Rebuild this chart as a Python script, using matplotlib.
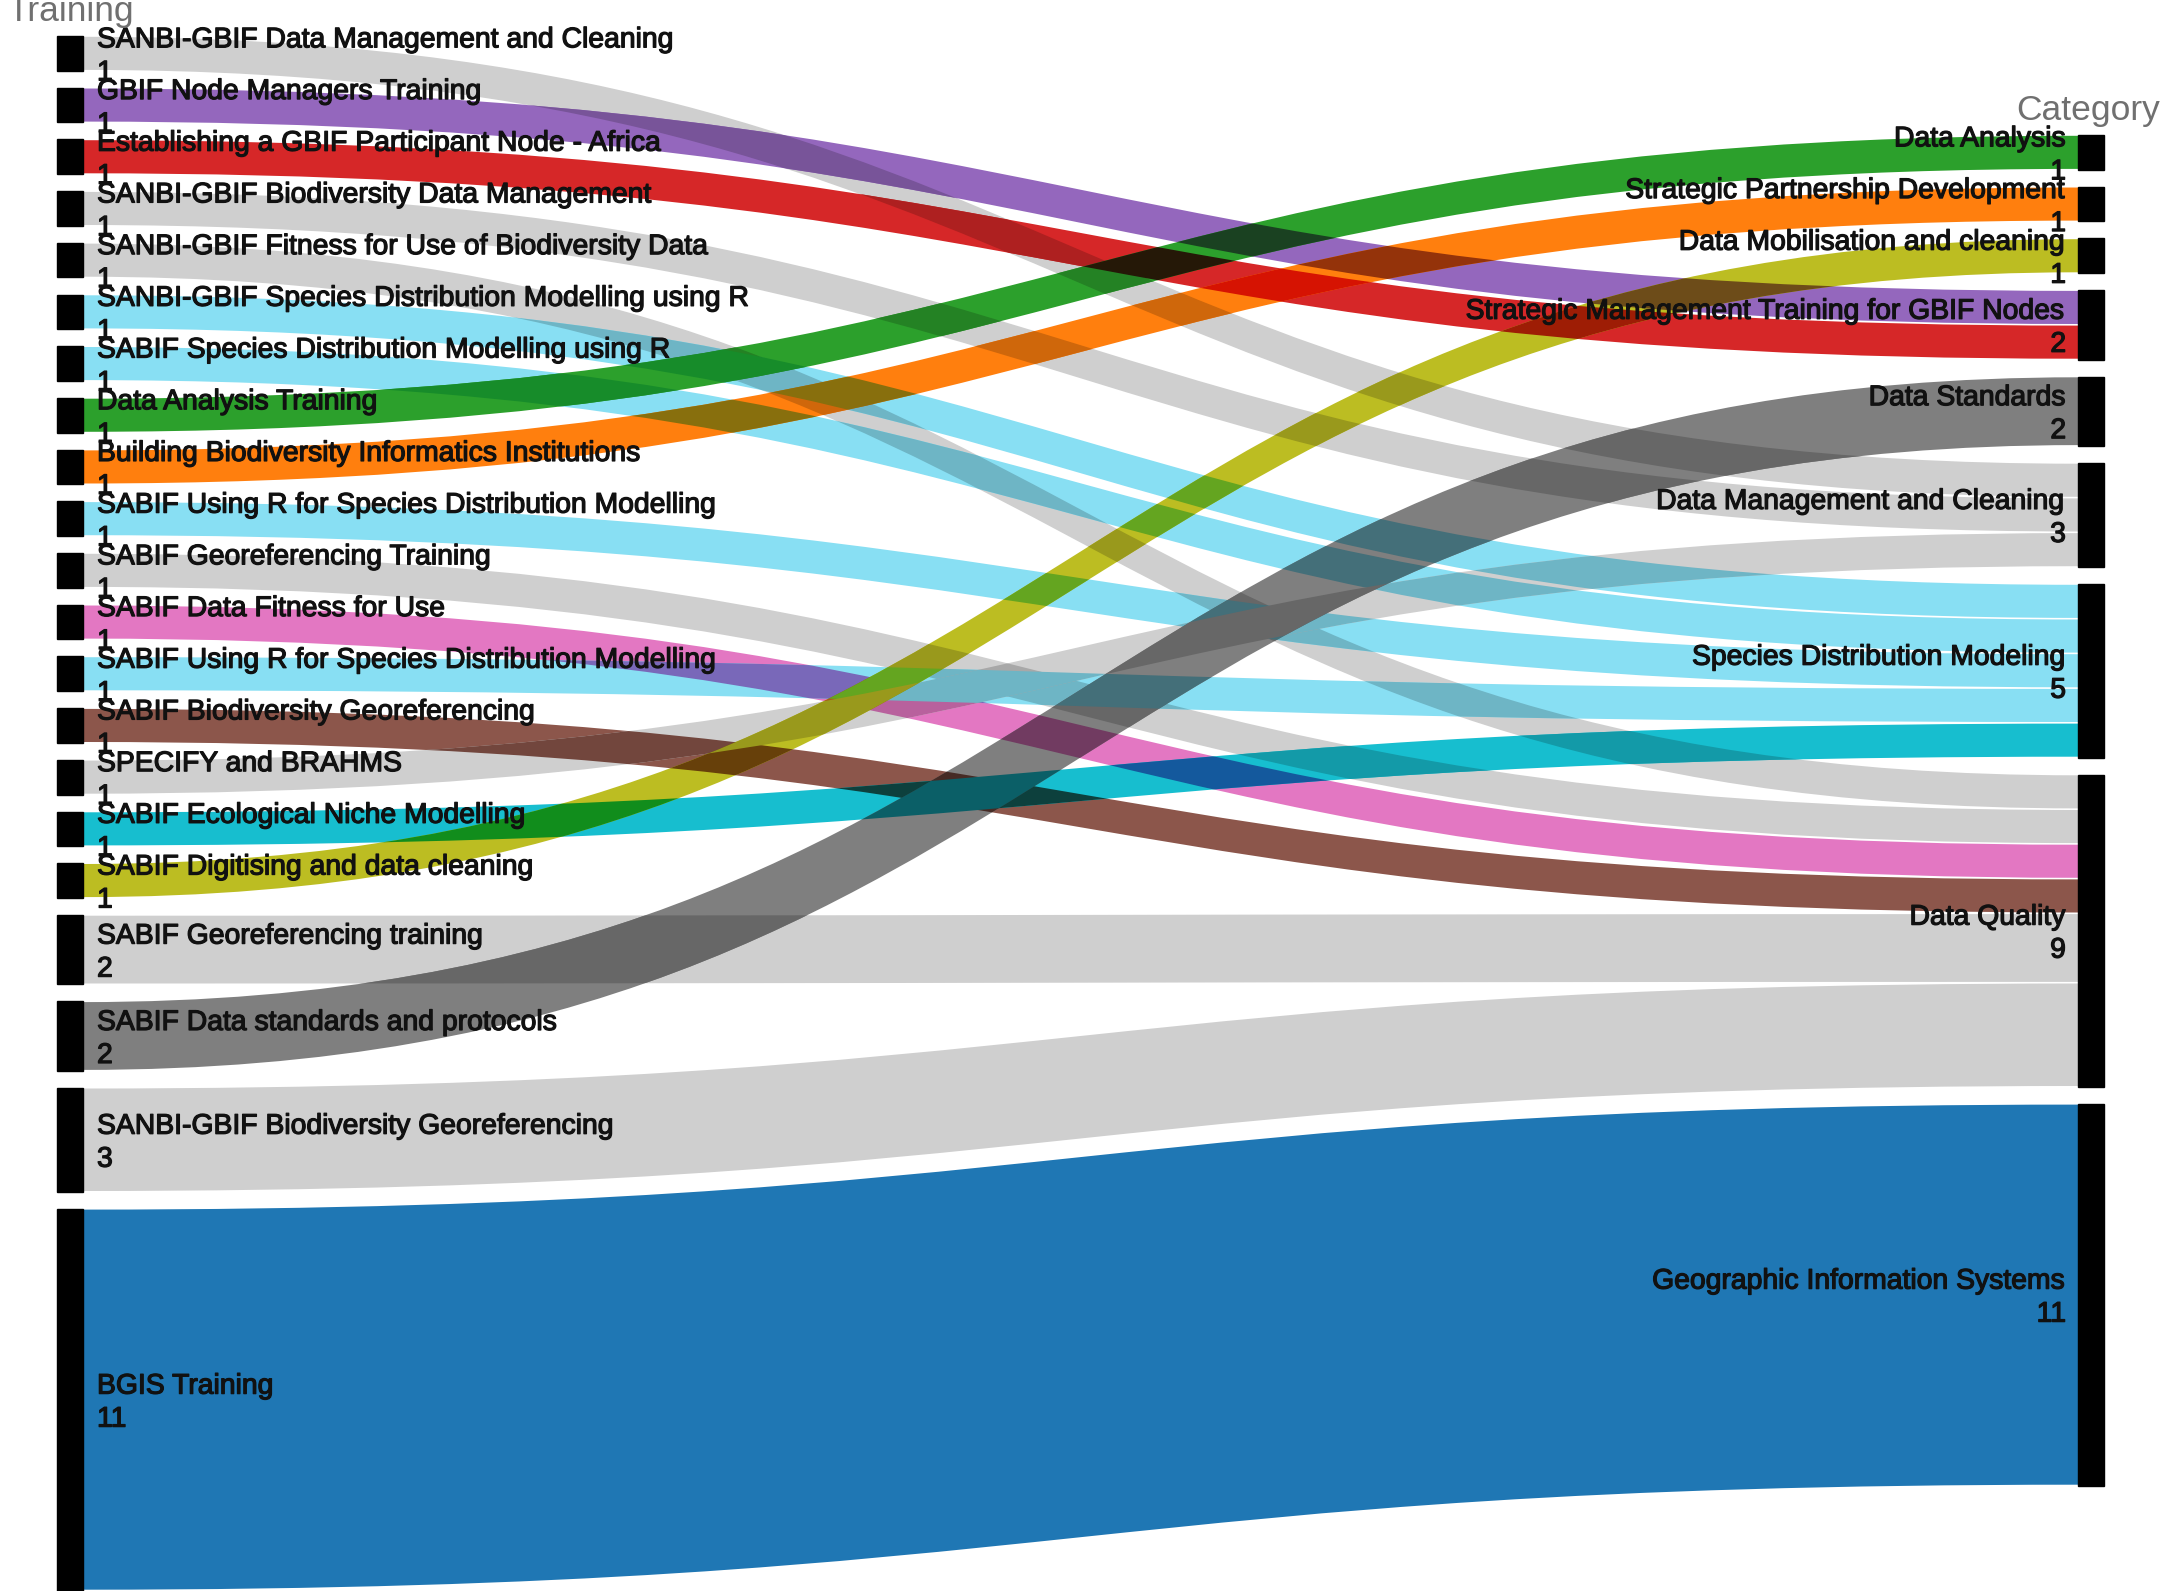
"""Sankey of training courses -> category, drawn by hand with matplotlib."""

import matplotlib
matplotlib.use("Agg")
import matplotlib.pyplot as plt
import matplotlib.patheffects as pe
from matplotlib.path import Path
from matplotlib.patches import PathPatch, Rectangle
from matplotlib.colors import to_rgb

# ---------------------------------------------------------------------------
# Data (one link per training course)
# ---------------------------------------------------------------------------
trainings = [
    "SANBI-GBIF Data Management and Cleaning",
    "GBIF Node Managers Training",
    "Establishing a GBIF Participant Node - Africa",
    "SANBI-GBIF Biodiversity Data Management",
    "SANBI-GBIF Fitness for Use of Biodiversity Data",
    "SANBI-GBIF Species Distribution Modelling using R",
    "SABIF Species Distribution Modelling using R",
    "Data Analysis Training",
    "Building Biodiversity Informatics Institutions",
    "SABIF Using R for Species Distribution Modelling",
    "SABIF Georeferencing Training",
    "SABIF Data Fitness for Use",
    "SABIF Using R for Species Distribution Modelling",
    "SABIF Biodiversity Georeferencing",
    "SPECIFY and BRAHMS",
    "SABIF Ecological Niche Modelling",
    "SABIF Digitising and data cleaning",
    "SABIF Georeferencing training",
    "SABIF Data standards and protocols",
    "SANBI-GBIF Biodiversity Georeferencing",
    "BGIS Training",
]
link_targets = [
    "Data Management and Cleaning",
    "Strategic Management Training for GBIF Nodes",
    "Strategic Management Training for GBIF Nodes",
    "Data Management and Cleaning",
    "Data Quality",
    "Species Distribution Modeling",
    "Species Distribution Modeling",
    "Data Analysis",
    "Strategic Partnership Development",
    "Species Distribution Modeling",
    "Data Quality",
    "Data Quality",
    "Species Distribution Modeling",
    "Data Quality",
    "Data Management and Cleaning",
    "Species Distribution Modeling",
    "Data Mobilisation and cleaning",
    "Data Quality",
    "Data Standards",
    "Data Quality",
    "Geographic Information Systems",
]
link_values = [1, 1, 1, 1, 1, 1, 1, 1, 1, 1, 1, 1, 1, 1, 1, 1, 1, 2, 2, 3, 11]

categories = [
    "Data Analysis",
    "Strategic Partnership Development",
    "Data Mobilisation and cleaning",
    "Strategic Management Training for GBIF Nodes",
    "Data Standards",
    "Data Management and Cleaning",
    "Species Distribution Modeling",
    "Data Quality",
    "Geographic Information Systems",
]

LGRAY = "#cfcfcf"
LCYAN = "#88dff3"
link_colors = [
    LGRAY, "#9467bd", "#d62728", LGRAY, LGRAY, LCYAN, LCYAN, "#2ca02c",
    "#ff7f0e", LCYAN, LGRAY, "#e377c2", LCYAN, "#8c564b", LGRAY, "#17becf",
    "#bcbd22", LGRAY, "#7f7f7f", LGRAY, "#1f77b4",
]

# ---------------------------------------------------------------------------
# Layout (pixel space of the 2165 x 1591 canvas)
# ---------------------------------------------------------------------------
W, H = 2165, 1591
TOP = 36
UNIT = 34.7
GAP = 17
NODE_W = 26
LEFT_X = 57
RIGHT_X = 2078
RIGHT_SHIFT = -3
INSET = 0.8

fig = plt.figure(figsize=(W / 100, H / 100), dpi=100)
ax = fig.add_axes([0, 0, 1, 1])
ax.set_xlim(0, W)
ax.set_ylim(H, 0)
ax.axis("off")

# left nodes, stacked
left_pos = []
y = TOP
for v in link_values:
    left_pos.append((y, y + v * UNIT))
    y += v * UNIT + GAP
left_span = y - GAP - TOP

# right nodes, centred against the left column
cat_values = [sum(v for t, v in zip(link_targets, link_values) if t == c)
              for c in categories]
right_span = sum(cat_values) * UNIT + (len(categories) - 1) * GAP
y = TOP + (left_span - right_span) / 2 + RIGHT_SHIFT
right_pos = {}
for c, v in zip(categories, cat_values):
    right_pos[c] = (y, y + v * UNIT)
    y += v * UNIT + GAP

# link end segments on the right, filled in source order
fill = {c: right_pos[c][0] for c in categories}
paths = []
x0 = LEFT_X + NODE_W
x1 = RIGHT_X
xm = (x0 + x1) / 2
for (t0, b0), tgt, v in zip(left_pos, link_targets, link_values):
    t1 = fill[tgt]
    b1 = t1 + v * UNIT
    fill[tgt] = b1
    t0i, b0i, t1i, b1i = t0 + INSET, b0 - INSET, t1 + INSET, b1 - INSET
    verts = [(x0, t0i), (xm, t0i), (xm, t1i), (x1, t1i),
             (x1, b1i), (xm, b1i), (xm, b0i), (x0, b0i), (x0, t0i)]
    codes = [Path.MOVETO, Path.CURVE4, Path.CURVE4, Path.CURVE4,
             Path.LINETO, Path.CURVE4, Path.CURVE4, Path.CURVE4, Path.CLOSEPOLY]
    paths.append(Path(verts, codes))

# base bands
for p, col in zip(paths, link_colors):
    ax.add_patch(PathPatch(p, facecolor=col, edgecolor="none", zorder=1))

# crossings look multiplied in the original: overlay pairwise products
for i in range(len(paths)):
    ci = to_rgb(link_colors[i])
    for j in range(i + 1, len(paths)):
        cj = to_rgb(link_colors[j])
        mix = tuple(a * b for a, b in zip(ci, cj))
        patch = PathPatch(paths[j], facecolor=mix, edgecolor="none", zorder=2)
        ax.add_patch(patch)
        patch.set_clip_path(paths[i], ax.transData)

# node bars
for t, b in left_pos:
    ax.add_patch(Rectangle((LEFT_X, t), NODE_W, b - t, color="black", zorder=3))
for c in categories:
    t, b = right_pos[c]
    ax.add_patch(Rectangle((RIGHT_X, t), NODE_W, b - t, color="black", zorder=3))

# labels
FONT = "Liberation Sans"
LBL = 20.4
TXT = "#111111"
heavy = [pe.withStroke(linewidth=0.9, foreground=TXT)]
for name, v, (t, b) in zip(trainings, link_values, left_pos):
    c = (t + b) / 2
    ax.text(x0 + 14, c - 6, name, fontsize=LBL, family=FONT, color=TXT,
            va="baseline", ha="left", zorder=4, path_effects=heavy)
    ax.text(x0 + 14, c + 27, str(v), fontsize=LBL, family=FONT, color=TXT,
            va="baseline", ha="left", zorder=4, path_effects=heavy)
for name, v in zip(categories, cat_values):
    t, b = right_pos[name]
    c = (t + b) / 2
    ax.text(RIGHT_X - 12, c - 6, name, fontsize=LBL, family=FONT, color=TXT,
            va="baseline", ha="right", zorder=4, path_effects=heavy)
    ax.text(RIGHT_X - 12, c + 27, str(v), fontsize=LBL, family=FONT, color=TXT,
            va="baseline", ha="right", zorder=4, path_effects=heavy)

# column headers
ax.text(7, 21, "Training", fontsize=25.5, family=FONT, color="#707070",
        va="baseline", ha="left", zorder=4)
ax.text(2160, 120, "Category", fontsize=25.5, family=FONT, color="#707070",
        va="baseline", ha="right", zorder=4)

fig.savefig("out.png", dpi=100)
